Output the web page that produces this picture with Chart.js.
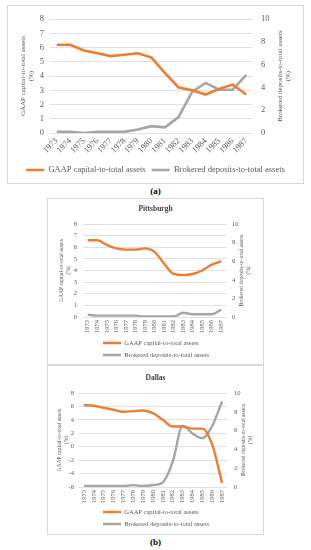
<!DOCTYPE html>
<html>
<head>
<meta charset="utf-8">
<script src="https://cdn.jsdelivr.net/npm/chart.js@4.4.1/dist/chart.umd.min.js"></script>
<style>
    html, body { margin: 0; padding: 0; background: #ffffff; }
    body { width: 311px; height: 550px; position: relative; overflow: hidden; font-family: 'Liberation Serif', 'Times New Roman', serif; }
    .box { position: absolute; border: 1px solid #d9d9d9; box-sizing: border-box; background: #ffffff; }
    .box canvas { display: block; }
    .tag { position: absolute; width: 311px; left: 0; text-align: center; font-weight: bold; font-size: 9px; color: #000; }
</style>
</head>
<body>
<div class="box" style="left:7px; top:5px; width:297px; height:179px;"><canvas id="chartA"></canvas></div>
<div class="tag" style="top:186px;">(a)</div>
<div class="box" style="left:47px; top:198px; width:217px; height:167px;"><canvas id="chartPit"></canvas></div>
<div class="box" style="left:47px; top:365px; width:217px; height:170px;"><canvas id="chartDal"></canvas></div>
<div class="tag" style="top:537px;">(b)</div>
<script>
// Data (percent of total assets)
const years = ['1973', '1974', '1975', '1976', '1977', '1978', '1979', '1980', '1981', '1982', '1983', '1984', '1985', '1986', '1987'];

// (a) all banks
const gaapAll = [6.2, 6.2, 5.8, 5.6, 5.4, 5.5, 5.6, 5.3, 4.2, 3.2, 3.0, 2.7, 3.1, 3.4, 2.7];
const brokeredAll = [0.1, 0.1, 0.0, 0.1, 0.1, 0.1, 0.3, 0.6, 0.5, 1.4, 3.6, 4.4, 3.8, 3.8, 5.1];

// (b) Pittsburgh
const gaapPit = [6.6, 6.6, 6.2, 5.9, 5.8, 5.8, 5.9, 5.6, 4.6, 3.7, 3.6, 3.7, 4.0, 4.5, 4.8];
const brokeredPit = [0.25, 0.15, 0.15, 0.15, 0.15, 0.15, 0.05, 0.05, 0.05, 0.05, 0.45, 0.3, 0.3, 0.3, 0.8];

// (b) Dallas
const gaapDal = [6.2, 6.1, 5.8, 5.5, 5.2, 5.3, 5.4, 5.0, 4.0, 3.0, 3.0, 2.7, 2.7, 0.3, -5.4];
const brokeredDal = [0.1, 0.1, 0.1, 0.1, 0.1, 0.2, 0.1, 0.2, 0.5, 2.7, 6.5, 5.7, 5.2, 6.5, 9.1];

// Axis tick labels
const leftTicksA = [0, 1, 2, 3, 4, 5, 6, 7, 8];
const leftTicksPit = [0, 1, 2, 3, 4, 5, 6, 7, 8];
const leftTicksDal = [-6, -4, -2, 0, 2, 4, 6, 8];
const rightTicks = [0, 2, 4, 6, 8, 10];

const gaapLabel = 'GAAP capital-to-total assets';
const brokeredLabel = 'Brokered deposits-to-total assets';

const ORANGE = '#ED7D31';
const GRAY = '#A5A5A5';
const TEXT = '#595959';
const GRID = '#D9D9D9';
const FONT = "'Liberation Serif', 'Times New Roman', serif";

Chart.defaults.font.family = FONT;
Chart.defaults.color = TEXT;
Chart.defaults.animation = false;

// Moves the legend to a fixed spot (x = start of first legend line, y = centre of first row)
const legendSpot = {
    id: 'legendSpot',
    beforeDraw(chart, args, opts) {
        const lg = chart.legend;
        if (!lg || opts.y === undefined) return;
        const h = lg.bottom - lg.top;
        const w = lg.right - lg.left;
        lg.top = opts.y - opts.pad - opts.size / 2;
        lg.bottom = lg.top + h;
        if (opts.x !== undefined) {
            lg.left = opts.x - opts.pad;
            lg.right = lg.left + w;
        }
    }
};

// Right axis title, rotated the same way as the left one (reads bottom to top)
const rightTitle = {
    id: 'rightTitle',
    afterDraw(chart, args, opts) {
        if (!opts.text) return;
        const { ctx, chartArea } = chart;
        const cy = (chartArea.top + chartArea.bottom) / 2;
        ctx.save();
        ctx.font = `${opts.size}px ${FONT}`;
        ctx.fillStyle = TEXT;
        ctx.textAlign = 'center';
        ctx.textBaseline = 'middle';
        opts.text.forEach((line, i) => {
            ctx.save();
            ctx.translate(chart.width - opts.inset + i * opts.size * 1.2, cy);
            ctx.rotate(-Math.PI / 2);
            ctx.fillText(line, 0, 0);
            ctx.restore();
        });
        ctx.restore();
    }
};

function buildChart(id, cfg) {
    const ctx = document.getElementById(id).getContext('2d');
    const lineSet = (label, data, color, axis) => ({
        label: label,
        data: data,
        yAxisID: axis,
        borderColor: color,
        backgroundColor: color,
        borderWidth: cfg.lineWidth,
        pointRadius: 0,
        cubicInterpolationMode: cfg.smooth ? 'monotone' : 'default',
        tension: 0,
        fill: false
    });

    return new Chart(ctx, {
        type: 'line',
        data: {
            labels: years,
            datasets: [
                lineSet(gaapLabel, cfg.gaap, ORANGE, 'y'),
                lineSet(brokeredLabel, cfg.brokered, GRAY, 'y1')
            ]
        },
        options: {
            responsive: true,
            maintainAspectRatio: false,
            layout: { padding: { top: cfg.padTop, left: 0, right: 0, bottom: 0 } },
            plugins: {
                tooltip: { enabled: false },
                title: {
                    display: !!cfg.title,
                    text: cfg.title,
                    color: '#404040',
                    font: { size: cfg.titleSize, weight: 'bold' },
                    padding: cfg.titlePad
                },
                legend: {
                    position: cfg.legendPos,
                    align: cfg.legendAlign,
                    labels: {
                        boxWidth: cfg.legendBox,
                        boxHeight: 2.5,
                        padding: cfg.legendPad,
                        color: TEXT,
                        font: { size: cfg.legendSize },
                        generateLabels: (chart) => chart.data.datasets.map((ds, i) => ({
                            text: ds.label,
                            fillStyle: ds.borderColor,
                            strokeStyle: ds.borderColor,
                            lineWidth: 0,
                            fontColor: TEXT,
                            datasetIndex: i
                        }))
                    }
                },
                legendSpot: { x: cfg.legendX, y: cfg.legendY, pad: cfg.legendPad, size: cfg.legendSize },
                rightTitle: { text: ['Brokered deposits-to-total assets', '(%)'], size: cfg.axisTitleSize, inset: cfg.rightTitleInset }
            },
            scales: {
                x: {
                    offset: true,
                    grid: { display: false, drawTicks: false },
                    border: { display: false },
                    ticks: {
                        autoSkip: false,
                        minRotation: cfg.xRotation,
                        maxRotation: cfg.xRotation,
                        padding: cfg.xPad,
                        color: TEXT,
                        font: { size: cfg.tickSize }
                    },
                    afterFit: (scale) => { scale.height = cfg.xHeight; }
                },
                y: {
                    position: 'left',
                    min: cfg.leftTicks[0],
                    max: cfg.leftTicks[cfg.leftTicks.length - 1],
                    grid: { color: GRID, lineWidth: 0.8, drawTicks: false },
                    border: { display: false },
                    ticks: {
                        stepSize: cfg.leftTicks[1] - cfg.leftTicks[0],
                        padding: cfg.leftPad,
                        color: TEXT,
                        font: { size: cfg.tickSize }
                    },
                    title: {
                        display: true,
                        text: [gaapLabel, '(%)'],
                        color: TEXT,
                        font: { size: cfg.axisTitleSize, lineHeight: 1.2 },
                        padding: { top: cfg.leftTitlePad, bottom: 0 }
                    },
                    afterFit: (scale) => { scale.width = cfg.leftWidth; }
                },
                y1: {
                    position: 'right',
                    min: rightTicks[0],
                    max: rightTicks[rightTicks.length - 1],
                    grid: { display: false, drawTicks: false },
                    border: { display: false },
                    ticks: {
                        stepSize: rightTicks[1] - rightTicks[0],
                        padding: cfg.rightPad,
                        color: TEXT,
                        font: { size: cfg.tickSize }
                    },
                    afterFit: (scale) => { scale.width = cfg.rightWidth; }
                }
            }
        },
        plugins: [legendSpot, rightTitle]
    });
}

// (a) canvas 295 x 177
buildChart('chartA', {
    gaap: gaapAll, brokered: brokeredAll, leftTicks: leftTicksA,
    lineWidth: 2.6, smooth: false,
    padTop: 9, title: '', titleSize: 8, titlePad: 0,
    tickSize: 8.5, xRotation: 45, xPad: 3, xHeight: 25.5,
    leftWidth: 42, leftPad: 6, rightWidth: 50, rightPad: 8,
    axisTitleSize: 7, leftTitlePad: 11, rightTitleInset: 23,
    legendPos: 'bottom', legendAlign: 'center', legendBox: 18, legendPad: 6, legendSize: 8.5,
    legendY: 164
});

// (b) Pittsburgh, canvas 215 x 165
buildChart('chartPit', {
    gaap: gaapPit, brokered: brokeredPit, leftTicks: leftTicksPit,
    lineWidth: 2.4, smooth: true,
    padTop: 0, title: 'Pittsburgh', titleSize: 7.5, titlePad: { top: 5.5, bottom: 10.5 },
    tickSize: 6.5, xRotation: 90, xPad: 3, xHeight: 47,
    leftWidth: 35, leftPad: 6, rightWidth: 37, rightPad: 6,
    axisTitleSize: 5.5, leftTitlePad: 10.7, rightTitleInset: 21,
    legendPos: 'chartArea', legendAlign: 'start', legendBox: 18, legendPad: 5.5, legendSize: 6.5,
    legendX: 55, legendY: 144
});

// (b) Dallas, canvas 215 x 168
buildChart('chartDal', {
    gaap: gaapDal, brokered: brokeredDal, leftTicks: leftTicksDal,
    lineWidth: 2.4, smooth: true,
    padTop: 0, title: 'Dallas', titleSize: 7.5, titlePad: { top: 7.5, bottom: 10.5 },
    tickSize: 6.5, xRotation: 90, xPad: 3, xHeight: 47,
    leftWidth: 31, leftPad: 5, rightWidth: 36, rightPad: 7,
    axisTitleSize: 5.5, leftTitlePad: 8.7, rightTitleInset: 19,
    legendPos: 'chartArea', legendAlign: 'start', legendBox: 18, legendPad: 5.5, legendSize: 6.5,
    legendX: 55, legendY: 146
});
</script>
</body>
</html>
